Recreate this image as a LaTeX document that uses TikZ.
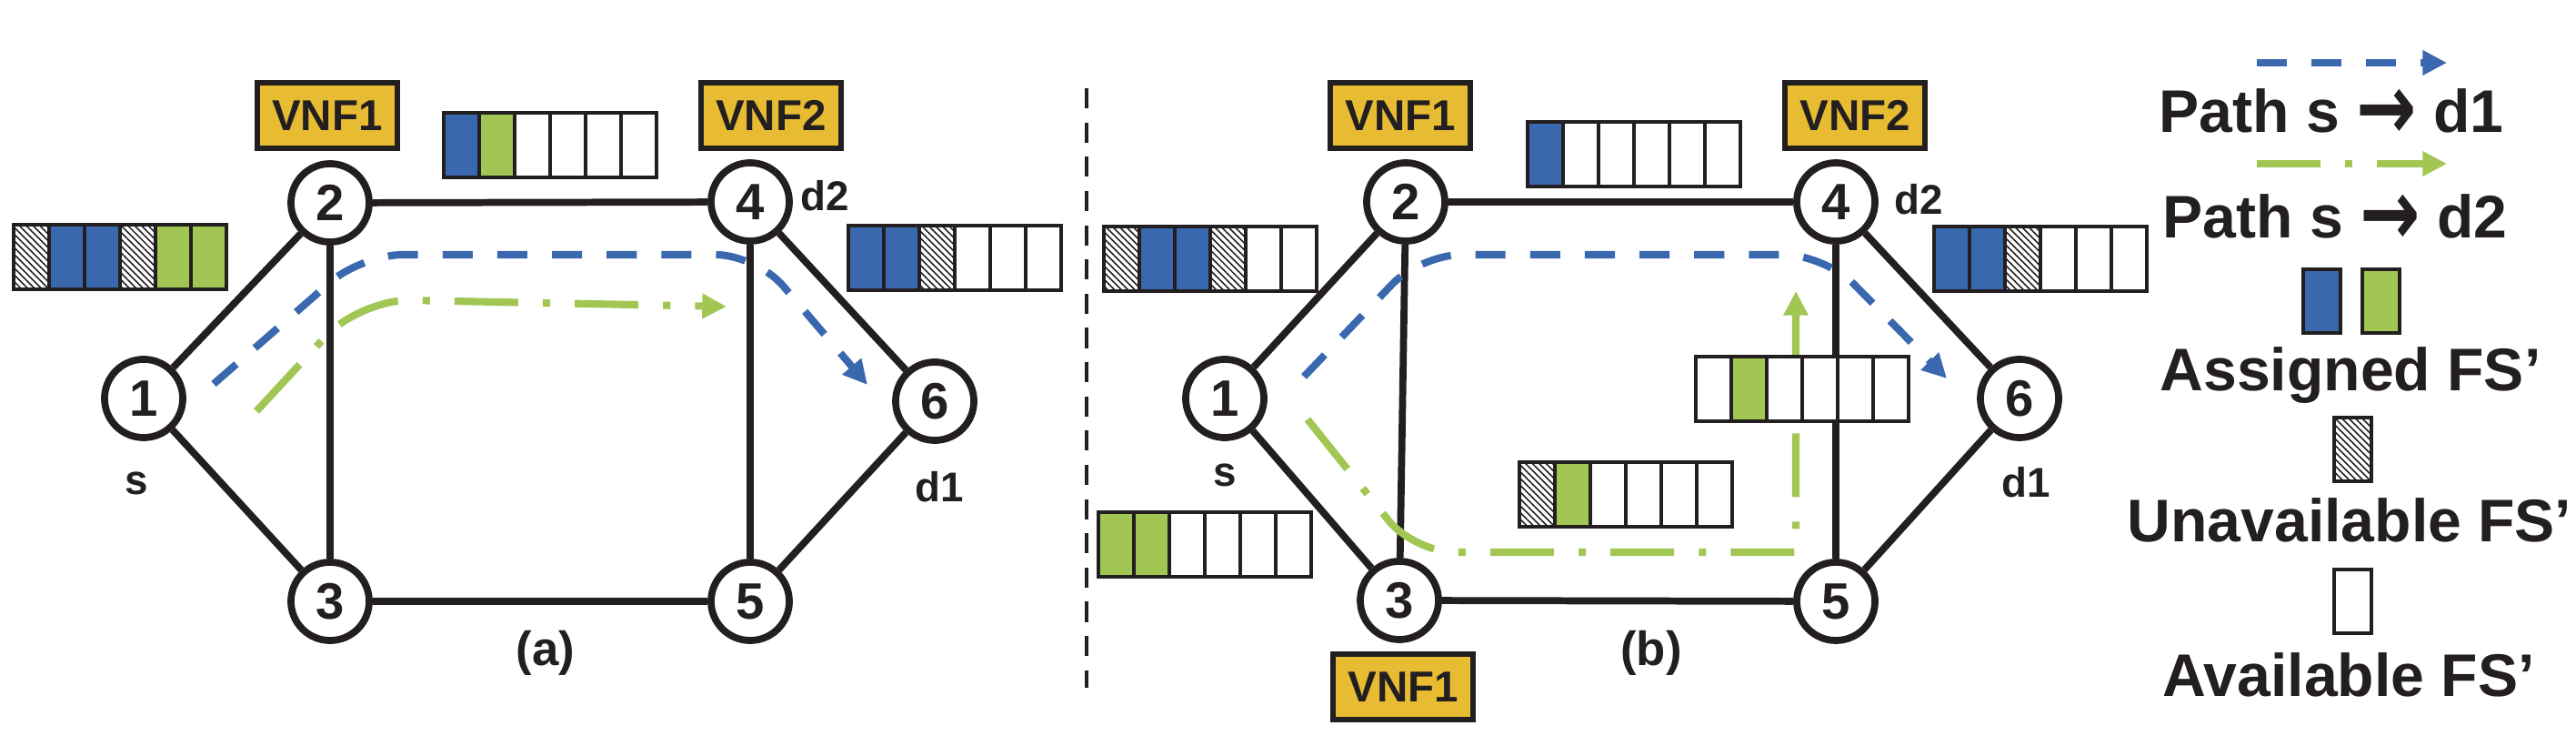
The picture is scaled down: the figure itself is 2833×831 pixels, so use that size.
\documentclass[tikz,border=0pt]{standalone}
\usepackage{fontspec}
\setmainfont{Liberation Sans}
\newfontfamily\arrowfont{DejaVu Sans}
\usetikzlibrary{arrows.meta, positioning, calc, patterns.meta}
\definecolor{fsblue}{RGB}{58,104,174}
\definecolor{fsgreen}{RGB}{161,198,83}
\definecolor{vnfyellow}{RGB}{232,188,50}
\definecolor{linedark}{RGB}{35,31,32}

\tikzset{
  vertex/.style={circle, draw=linedark, line width=2.2pt, fill=white, minimum size=0.86cm, inner sep=0pt, text=linedark, font=\fontsize{16}{16}\selectfont\bfseries},
  link/.style={draw=linedark, line width=2.2pt},
  vnf/.style={draw=linedark, fill=vnfyellow, line width=1.5pt, minimum width=1.54cm, minimum height=0.72cm, inner sep=0pt, text=linedark, font=\fontsize{13.5}{13.5}\selectfont\bfseries},
  tag/.style={inner sep=0pt, text=linedark, font=\fontsize{13}{13}\selectfont\bfseries},
  caption/.style={inner sep=0pt, text=linedark, font=\fontsize{15}{15}\selectfont\bfseries},
  legendtext/.style={inner sep=0pt, anchor=base, text=linedark, font=\fontsize{18.8}{18.8}\selectfont\bfseries},
  fscell/.style={draw=linedark, line width=0.9pt},
  fsb/.style={fill=fsblue},
  fsg/.style={fill=fsgreen},
  fsw/.style={fill=white},
  fsh/.style={fill=white, postaction={pattern={Lines[angle=-45, distance=1.5pt, line width=0.45pt]}, pattern color=linedark}},
  pathone/.style={draw=fsblue, line width=2.3pt, dash pattern=on 9.4pt off 7.7pt, -{Triangle[length=7.6pt, width=7.4pt]}},
  pathtwo/.style={draw=fsgreen, line width=2.3pt, dash pattern=on 19.9pt off 7.7pt on 2.3pt off 7.7pt, -{Triangle[length=7.6pt, width=7.4pt]}},
}

% spectrum bar: top-left corner, list of slots (b, g, h, w)
\newcommand{\fsbar}[2]{%
  \foreach \k [count=\i from 0] in {#2} {
    \path[fscell, fs\k] (#1) ++(\i*39,0) rectangle ++(39,71);
  }
}
\newcommand{\toarrow}{\raisebox{-0.12em}{\scalebox{1.2}[1.55]{\arrowfont\bfseries →}}}

\begin{document}
\begin{tikzpicture}[x=0.01cm, y=-0.01cm]
\useasboundingbox (0,0) rectangle (2833,831);

% ---- (a) ----
\node[vertex] (a1) at (158,438) {1};
\node[vertex] (a2) at (363,223) {2};
\node[vertex] (a3) at (363,661) {3};
\node[vertex] (a4) at (825,222) {4};
\node[vertex] (a5) at (825,661) {5};
\node[vertex] (a6) at (1028,441) {6};
\foreach \u/\v in {1/2,1/3,2/3,2/4,3/5,4/5,4/6,5/6}
  \draw[link] (a\u) -- (a\v);

\node[vnf] (av1) at (360,127) {VNF1};
\node[vnf] (av2) at (848,127) {VNF2};
\node[tag] (as) at (150,531) {s};
\node[tag] (ad2) at (907,215) {d2};
\node[tag] (ad1) at (1033,535) {d1};
\node[caption] (acap) at (600,718) {(a)};

\coordinate (pa1) at (235,422);
\coordinate (pa2) at (398,280);
\coordinate (pa3) at (832,280);
\coordinate (pa4) at (954,423);
\draw[pathone, rounded corners=0.45cm] (pa1) -- (pa2) -- (pa3) -- (pa4);
\coordinate (ga1) at (282,452);
\coordinate (ga2) at (396,329);
\coordinate (ga3) at (799,337);
\draw[pathtwo, rounded corners=0.55cm] (ga1) -- (ga2) -- (ga3);

\fsbar{15,247}{h,b,b,h,g,g}
\fsbar{488,124}{b,g,w,w,w,w}
\fsbar{933,248}{b,b,h,w,w,w}

% divider
\draw[linedark, line width=1.4pt, dash pattern=on 6.3pt off 4.4pt] (1195,97) -- (1195,756);

% ---- (b) ----
\node[vertex] (b1) at (1347,438) {1};
\node[vertex] (b2) at (1546,222) {2};
\node[vertex] (b3) at (1539,660) {3};
\node[vertex] (b4) at (2019,222) {4};
\node[vertex] (b5) at (2019,661) {5};
\node[vertex] (b6) at (2221,438) {6};
\foreach \u/\v in {1/2,1/3,2/3,2/4,3/5,4/5,4/6,5/6}
  \draw[link] (b\u) -- (b\v);

\node[vnf] (bv1) at (1540,127) {VNF1};
\node[vnf] (bv2) at (2040,127) {VNF2};
\node[vnf] (bv3) at (1543,755) {VNF1};
\node[tag] (bs) at (1347,522) {s};
\node[tag] (bd2) at (2110,219) {d2};
\node[tag] (bd1) at (2228,530) {d1};
\node[caption] (bcap) at (1816,718) {(b)};

\coordinate (pb1) at (1434,414);
\coordinate (pb2) at (1562,280);
\coordinate (pb3) at (2007,280);
\coordinate (pb4) at (2141,416);
\draw[pathone, rounded corners=0.45cm] (pb1) -- (pb2) -- (pb3) -- (pb4);
\coordinate (gb1) at (1438,461);
\coordinate (gb2) at (1555,607);
\coordinate (gb3) at (1975,607);
\coordinate (gb4) at (1975,320);
\draw[pathtwo] (gb1) [rounded corners=0.45cm] -- (gb2) [sharp corners] -- (gb3) -- (gb4);

\fsbar{1214,249}{h,b,b,h,w,w}
\fsbar{1680,134}{b,w,w,w,w,w}
\fsbar{2127,249}{b,b,h,w,w,w}
\fsbar{1865,392}{w,g,w,w,w,w}
\fsbar{1671,508}{h,g,w,w,w,w}
\fsbar{1208,563}{g,g,w,w,w,w}

% ---- legend ----
\coordinate (l1a) at (2482,69);
\coordinate (l1b) at (2691,69);
\draw[pathone] (l1a) -- (l1b);
\node[legendtext] (lt1) at (2564,146) {Path s \toarrow{} d1};
\coordinate (l2a) at (2482,180);
\coordinate (l2b) at (2691,180);
\draw[pathtwo] (l2a) -- (l2b);
\node[legendtext] (lt2) at (2568,262) {Path s \toarrow{} d2};
\path[fscell, fsb] (2533,296) rectangle (2574,366);
\path[fscell, fsg] (2598,296) rectangle (2639,366);
\node[legendtext] (lt3) at (2585,430) {Assigned FS’};
\path[fscell, fsh] (2567,459) rectangle (2608,529);
\node[legendtext] (lt4) at (2584,596) {Unavailable FS’};
\path[fscell, fsw] (2567,626) rectangle (2608,696);
\node[legendtext] (lt5) at (2583,766) {Available FS’};
\end{tikzpicture}
\end{document}
